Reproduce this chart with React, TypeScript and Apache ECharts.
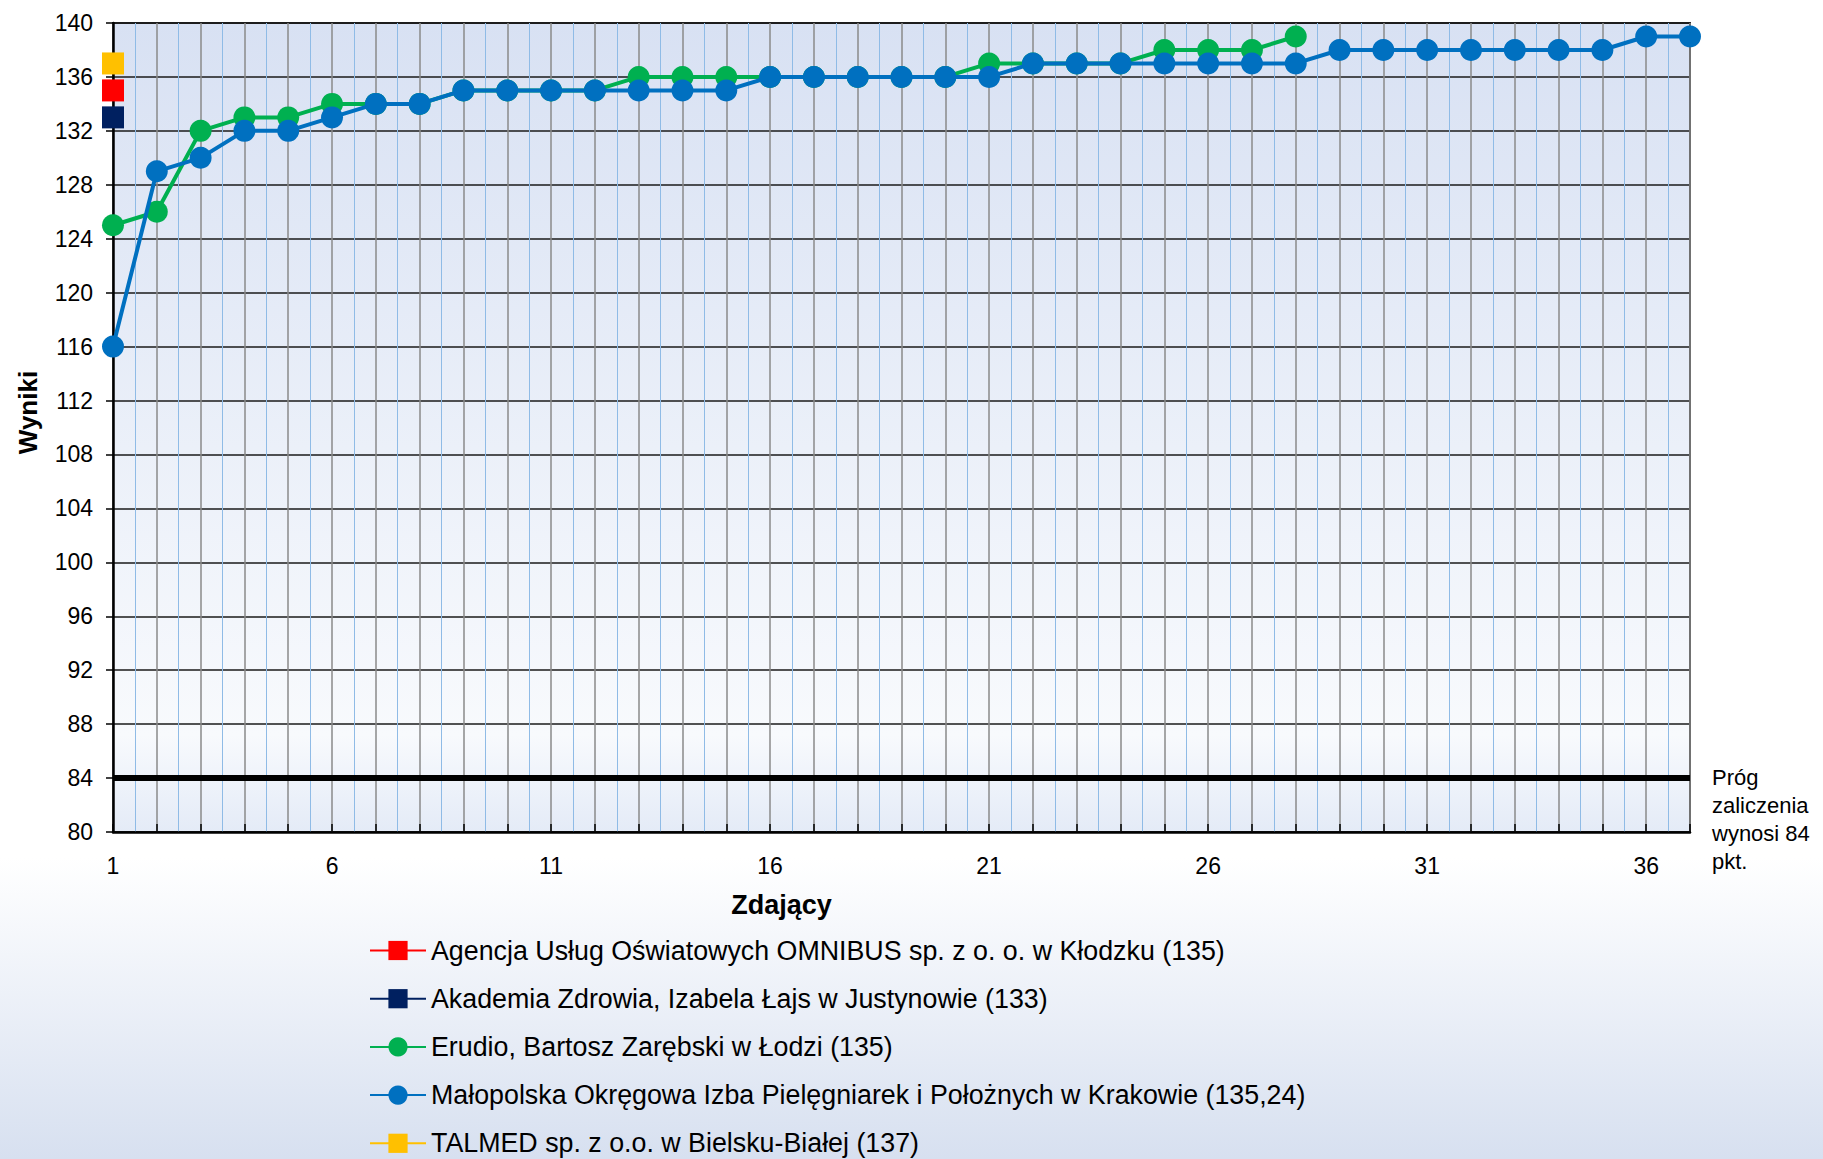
import React, { useEffect, useRef } from 'react';
import * as echarts from 'echarts';

// ---- data ----
const participants = [
  1, 2, 3, 4, 5, 6, 7, 8, 9, 10, 11, 12, 13, 14, 15, 16, 17, 18, 19, 20,
  21, 22, 23, 24, 25, 26, 27, 28, 29, 30, 31, 32, 33, 34, 35, 36, 37,
];
const agencjaScores = [135];
const akademiaScores = [133];
const erudioScores = [
  125, 126, 132, 133, 133, 134, 134, 134, 135, 135, 135, 135, 136, 136, 136,
  136, 136, 136, 136, 136, 137, 137, 137, 137, 138, 138, 138, 139,
];
const malopolskaScores = [
  116, 129, 130, 132, 132, 133, 134, 134, 135, 135, 135, 135, 135, 135, 135,
  136, 136, 136, 136, 136, 136, 137, 137, 137, 137, 137, 137, 137, 138, 138,
  138, 138, 138, 138, 138, 139, 139,
];
const talmedScores = [137];

const seriesNames = [
  'Agencja Usług Oświatowych OMNIBUS sp. z o. o. w Kłodzku (135)',
  'Akademia Zdrowia, Izabela Łajs w Justynowie (133)',
  'Erudio, Bartosz Zarębski w Łodzi (135)',
  'Małopolska Okręgowa Izba Pielęgniarek i Położnych w Krakowie (135,24)',
  'TALMED sp. z o.o. w Bielsku-Białej (137)',
];
const seriesColors = ['#ff0000', '#002060', '#00b050', '#0070c0', '#ffc000'];

const yMin = 80;
const yMax = 140;
const yInterval = 4;
const xLabelStep = 5;
const threshold = 84;
const thresholdLabel = ['Próg', 'zaliczenia', 'wynosi 84', 'pkt.'];
const xAxisTitle = 'Zdający';
const yAxisTitle = 'Wyniki';

const FONT = '"Liberation Sans", Arial, sans-serif';

const toPairs = (vals: number[]) => vals.map((v, i) => [participants[i], v]);

export default function App() {
  const ref = useRef<HTMLDivElement>(null);

  useEffect(() => {
    if (!ref.current) return;
    const chart = echarts.init(ref.current, undefined, { renderer: 'svg' });

    const squareSeries = (idx: number, vals: number[]) => ({
      name: seriesNames[idx],
      type: 'line',
      data: toPairs(vals),
      symbol: 'rect',
      symbolSize: 22,
      itemStyle: { color: seriesColors[idx] },
      lineStyle: { color: seriesColors[idx], width: 4 },
      z: 5,
    });

    chart.setOption({
      animation: false,
      backgroundColor: {
        type: 'linear', x: 0, y: 0, x2: 0, y2: 1,
        colorStops: [
          { offset: 0, color: '#ffffff' },
          { offset: 0.74, color: '#ffffff' },
          { offset: 1, color: '#d7e0f0' },
        ],
      },
      textStyle: { fontFamily: FONT },
      grid: {
        left: 113,
        right: 133,
        top: 23,
        bottom: 327,
        show: true,
        borderColor: '#2a2a2a',
        borderWidth: 2,
        backgroundColor: {
          type: 'linear', x: 0, y: 0, x2: 0, y2: 1,
          colorStops: [
            { offset: 0, color: '#d8e1f3' },
            { offset: 0.88, color: '#f8fafd' },
            { offset: 1, color: '#e4ebf7' },
          ],
        },
      },
      legend: {
        orient: 'vertical',
        left: 369,
        top: 937,
        height: 240,
        padding: 0,
        itemWidth: 56,
        itemHeight: 24,
        itemGap: 21.2,
        textStyle: { fontSize: 26.8, color: '#000', fontFamily: FONT, lineHeight: 26.5 },
        data: seriesNames,
      },
      xAxis: {
        type: 'value',
        min: participants[0],
        max: participants[participants.length - 1],
        interval: 1,
        name: xAxisTitle,
        nameLocation: 'middle',
        nameGap: 59,
        nameTextStyle: {
          fontSize: 27, fontWeight: 'bold', color: '#000', fontFamily: FONT,
          padding: [0, 240, 0, 0],
        },
        axisLine: { show: true, lineStyle: { color: '#000', width: 2.5 } },
        axisTick: { show: true, inside: true, length: 8, lineStyle: { color: '#000', width: 1.5 } },
        axisLabel: {
          fontSize: 23,
          color: '#000',
          margin: 22,
          fontFamily: FONT,
          formatter: (v: number) => ((v - participants[0]) % xLabelStep === 0 ? String(v) : ''),
        },
        splitLine: { show: true, lineStyle: { color: '#8a8a8a', width: 1.5 } },
        minorTick: { show: false, splitNumber: 2 },
        minorSplitLine: { show: true, lineStyle: { color: '#8fbbe6', width: 1 } },
      },
      yAxis: {
        type: 'value',
        min: yMin,
        max: yMax,
        interval: yInterval,
        name: yAxisTitle,
        nameLocation: 'middle',
        nameGap: 72,
        nameTextStyle: {
          fontSize: 26, fontWeight: 'bold', color: '#000', fontFamily: FONT,
          padding: [0, 0, 0, 30],
        },
        axisLine: { show: true, lineStyle: { color: '#000', width: 2.5 } },
        axisTick: { show: true, length: 7, lineStyle: { color: '#000', width: 1.5 } },
        axisLabel: { fontSize: 23, color: '#000', margin: 20, fontFamily: FONT },
        splitLine: { show: true, lineStyle: { color: '#1a1a1a', width: 1.5 } },
      },
      series: [
        squareSeries(0, agencjaScores),
        squareSeries(1, akademiaScores),
        {
          name: seriesNames[2],
          type: 'line',
          data: toPairs(erudioScores),
          symbol: 'circle',
          symbolSize: 22,
          itemStyle: { color: seriesColors[2] },
          lineStyle: { color: seriesColors[2], width: 4 },
          z: 3,
        },
        {
          name: seriesNames[3],
          type: 'line',
          data: toPairs(malopolskaScores),
          symbol: 'circle',
          symbolSize: 22,
          itemStyle: { color: seriesColors[3] },
          lineStyle: { color: seriesColors[3], width: 4 },
          z: 4,
          markLine: {
            silent: true,
            symbol: ['none', 'none'],
            lineStyle: { color: '#000', width: 6, type: 'solid' },
            label: {
              show: true,
              position: 'end',
              formatter: thresholdLabel.join('\n'),
              fontSize: 22,
              lineHeight: 28,
              color: '#000',
              fontFamily: FONT,
              distance: 22,
              align: 'left',
              verticalAlign: 'top',
              offset: [0, -15],
            },
            data: [{ yAxis: threshold }],
          },
        },
        squareSeries(4, talmedScores),
      ],
    });

    return () => chart.dispose();
  }, []);

  return (
    <div
      ref={ref}
      style={{ position: 'absolute', left: 0, top: 0, width: 1823, height: 1159 }}
    />
  );
}
